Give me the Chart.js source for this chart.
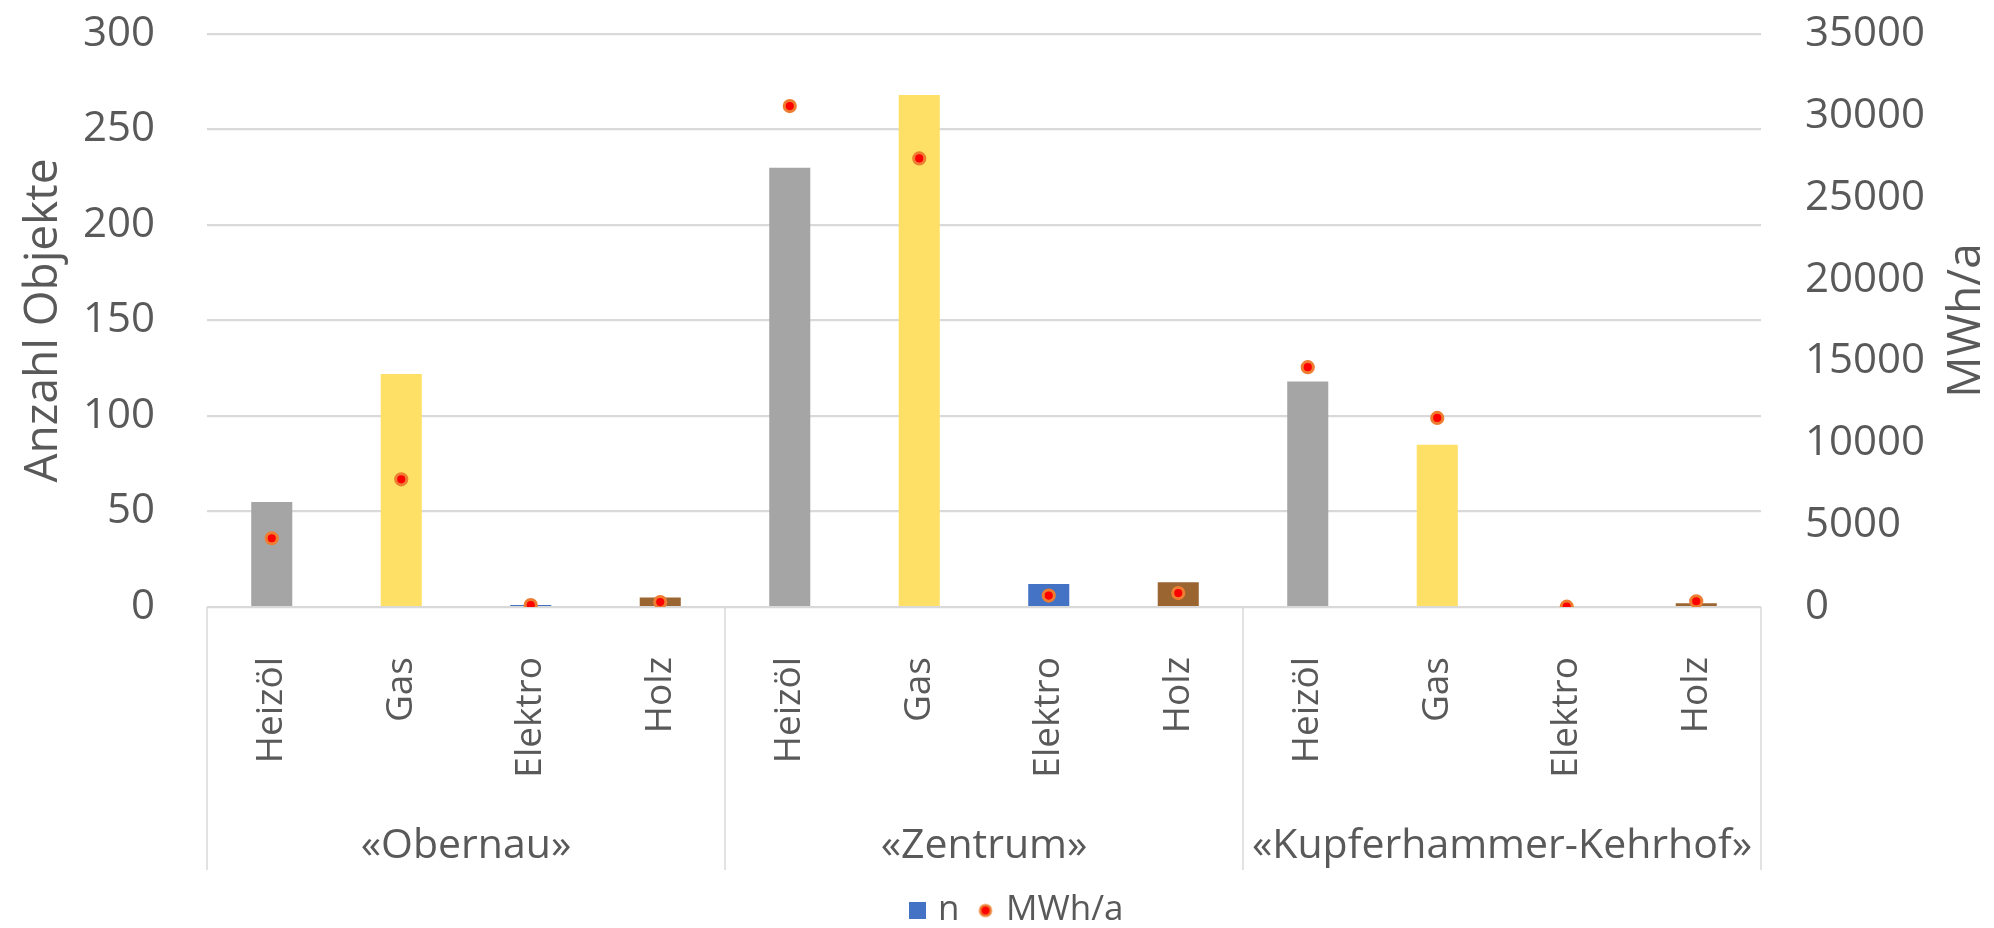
<!DOCTYPE html>
<html>
<head>
<meta charset="utf-8">
<script src="https://cdn.jsdelivr.net/npm/chart.js@4.4.1/dist/chart.umd.min.js"></script>
<style>
  html, body { margin: 0; padding: 0; background: #fff; }
  #wrap { width: 1994px; height: 928px; }
</style>
</head>
<body>
<div id="wrap"><canvas id="chart"></canvas></div>
<script>
// data
const groups = ["«Obernau»", "«Zentrum»", "«Kupferhammer-Kehrhof»"];
const carriers = ["Heizöl", "Gas", "Elektro", "Holz"];
const categories = groups.flatMap(() => carriers);
const nValues = [55, 122, 1, 5, 230, 268, 12, 13, 118, 85, 0, 2];
const mwhValues = [4200, 7800, 120, 300, 30600, 27400, 700, 850, 14650, 11550, 20, 350];
const nTicks = [0, 50, 100, 150, 200, 250, 300];
const mwhTicks = [0, 5000, 10000, 15000, 20000, 25000, 30000, 35000];
const nName = "n";
const mwhName = "MWh/a";
const leftTitle = "Anzahl Objekte";

// styles
const carrierColors = ["#A5A5A5", "#FFE066", "#4472C4", "#9B6532"];
const textColor = "#595959";
const gridColor = "#D9D9D9";
const fontFamily = '"Open Sans", sans-serif';
const clear = "rgba(0,0,0,0)";

Chart.defaults.font.family = fontFamily;
Chart.defaults.color = textColor;

// small dot for the legend (red with orange ring)
const legendDot = document.createElement("canvas");
legendDot.width = 16;
legendDot.height = 16;
(function () {
    const c = legendDot.getContext("2d");
    c.beginPath();
    c.arc(8, 8, 5.3, 0, Math.PI * 2);
    c.fillStyle = "#FF0000";
    c.fill();
    c.lineWidth = 2.6;
    c.strokeStyle = "#ED7D31";
    c.stroke();
})();

const groupLines = {
    id: "groupLines",
    afterDraw(chart) {
        const x = chart.scales.x;
        const x2 = chart.scales.x2;
        const ctx = chart.ctx;
        const step = (x.right - x.left) / categories.length;

        ctx.save();
        ctx.strokeStyle = gridColor;
        ctx.lineWidth = 1.5;
        for (let g = 0; g <= groups.length; g++) {
            const px = Math.round(x.left + g * carriers.length * step);
            ctx.beginPath();
            ctx.moveTo(px, chart.chartArea.bottom);
            ctx.lineTo(px, x2.bottom);
            ctx.stroke();
        }

        // right axis title, reading upwards like the left one
        const y2 = chart.scales.y2;
        ctx.fillStyle = textColor;
        ctx.font = "46px " + fontFamily;
        ctx.textAlign = "center";
        ctx.textBaseline = "middle";
        ctx.translate(y2.right - 27, (chart.chartArea.top + chart.chartArea.bottom) / 2);
        ctx.rotate(-Math.PI / 2);
        ctx.fillText(mwhName, 0, 0);
        ctx.restore();
    }
};

new Chart(document.getElementById("chart"), {
    type: "bar",
    data: {
        labels: categories,
        datasets: [
            {
                type: "line",
                label: mwhName,
                data: mwhValues,
                yAxisID: "y2",
                showLine: false,
                pointRadius: 5.6,
                pointHoverRadius: 5.6,
                pointBackgroundColor: "#FF0000",
                pointBorderColor: "#ED7D31",
                pointBorderWidth: 3
            },
            {
                label: nName,
                data: nValues,
                yAxisID: "y",
                backgroundColor: categories.map((c, i) => carrierColors[i % carriers.length]),
                barPercentage: 0.317,
                categoryPercentage: 1
            }
        ]
    },
    options: {
        responsive: true,
        maintainAspectRatio: false,
        animation: false,
        layout: { padding: { top: 34, bottom: -10, left: 44, right: 0 } },
        plugins: {
            tooltip: { enabled: false },
            legend: {
                position: "bottom",
                labels: {
                    usePointStyle: true,
                    boxWidth: 6,
                    boxHeight: 17,
                    padding: 23,
                    font: { size: 35 },
                    color: textColor,
                    generateLabels: () => [
                        { text: nName, fillStyle: carrierColors[2], strokeStyle: carrierColors[2], lineWidth: 0, pointStyle: "rect", datasetIndex: 1, fontColor: textColor },
                        { text: mwhName, fillStyle: "#FF0000", strokeStyle: "#ED7D31", lineWidth: 0, pointStyle: legendDot, datasetIndex: 0, fontColor: textColor }
                    ]
                }
            }
        },
        scales: {
            x: {
                position: "bottom",
                offset: true,
                grid: { display: false },
                border: { display: false },
                ticks: {
                    autoSkip: false,
                    minRotation: 90,
                    maxRotation: 90,
                    padding: 42,
                    font: { size: 37 }
                },
                afterFit: s => { s.height = 200; }
            },
            x2: {
                type: "category",
                position: "bottom",
                labels: groups,
                offset: true,
                grid: { display: false },
                border: { display: false },
                ticks: { padding: 7, maxRotation: 0, font: { size: 41 } },
                afterFit: s => { s.height = 63; }
            },
            y: {
                position: "left",
                min: nTicks[0],
                max: nTicks[nTicks.length - 1],
                ticks: {
                    stepSize: nTicks[1] - nTicks[0],
                    padding: 0,
                    font: { size: 42 },
                    callback: v => String(v)
                },
                grid: { color: gridColor, lineWidth: 2.2, drawTicks: true, tickLength: 52, tickColor: clear },
                border: { display: false },
                title: { display: true, text: leftTitle, font: { size: 46 }, padding: { top: -28, bottom: 0 } },
                afterFit: s => { s.width = 163; }
            },
            y2: {
                position: "right",
                min: mwhTicks[0],
                max: mwhTicks[mwhTicks.length - 1],
                ticks: {
                    stepSize: mwhTicks[1] - mwhTicks[0],
                    padding: 0,
                    font: { size: 42 },
                    callback: v => String(v)
                },
                grid: { drawOnChartArea: false, drawTicks: true, tickLength: 44, tickColor: clear },
                border: { display: false },
                afterFit: s => { s.width = 233; }
            }
        }
    },
    plugins: [groupLines]
});
</script>
</body>
</html>
